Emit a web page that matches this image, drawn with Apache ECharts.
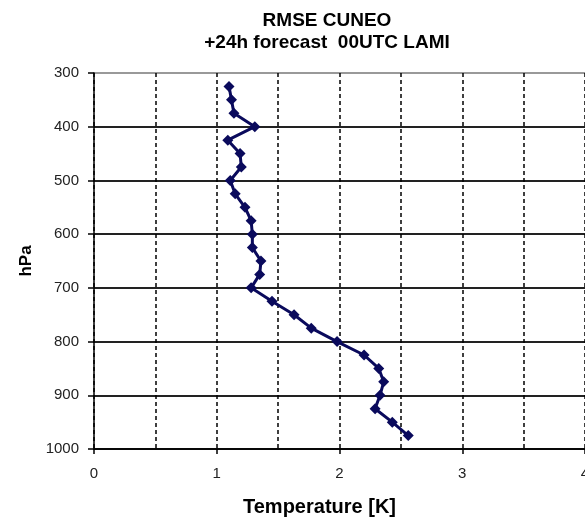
<!DOCTYPE html>
<html>
<head>
<meta charset="utf-8">
<script src="https://cdn.jsdelivr.net/npm/echarts@6/dist/echarts.min.js"></script>
<style>
html,body{margin:0;padding:0;background:#fff;overflow:hidden;}
#chart{width:585px;height:524px;}
</style>
</head>
<body>
<div id="chart"></div>
<script>
// Pressure levels (hPa)
var pressureLevels = [325,350,375,400,425,450,475,500,525,550,575,600,625,650,675,700,725,750,775,800,825,850,875,900,925,950,975];
// RMSE temperature values (K)
var rmseValues = [1.10,1.12,1.14,1.31,1.09,1.19,1.20,1.11,1.15,1.23,1.28,1.29,1.29,1.36,1.35,1.28,1.45,1.63,1.77,1.98,2.20,2.32,2.36,2.33,2.29,2.43,2.56];
var titleLines = ['RMSE CUNEO', '+24h forecast  00UTC LAMI'];
var xAxisTitle = 'Temperature [K]';
var yAxisTitle = 'hPa';

var seriesData = rmseValues.map(function(v, i){ return [v, pressureLevels[i]]; });
var FONT = 'Liberation Sans, Arial, sans-serif';

var chart = echarts.init(document.getElementById('chart'), null, {renderer:'canvas', width:585, height:524});
chart.setOption({
  backgroundColor:'#ffffff',
  animation:false,
  title:[
    {text:titleLines[0], left:322, top:6, textAlign:'center',
     textStyle:{fontFamily:FONT, fontWeight:'bold', fontSize:19, color:'#000'}},
    {text:titleLines[1], left:322, top:28, textAlign:'center',
     textStyle:{fontFamily:FONT, fontWeight:'bold', fontSize:19, color:'#000'}}
  ],
  grid:{left:94, width:491, top:73, height:376, containLabel:false, outerBoundsMode:'none'},
  xAxis:{
    type:'value', min:0, max:4, interval:1,
    name:xAxisTitle, nameLocation:'middle', nameGap:48,
    nameTextStyle:{fontFamily:FONT, fontWeight:'bold', fontSize:20, color:'#000', padding:[0,40,0,0]},
    axisLine:{show:true, onZero:false, lineStyle:{color:'#000', width:1.5}},
    axisTick:{show:true, length:5, lineStyle:{color:'#000', width:1.5}},
    axisLabel:{fontFamily:FONT, fontSize:15, color:'#222', margin:17},
    splitLine:{show:true, lineStyle:{color:'#000', width:1.5, type:[4,3]}},
    minorTick:{show:false, splitNumber:2},
    minorSplitLine:{show:true, lineStyle:{color:'#000', width:1.5, type:[4,3]}}
  },
  yAxis:{
    type:'value', min:300, max:1000, interval:100, inverse:true,
    name:yAxisTitle, nameLocation:'middle', nameGap:55, nameRotate:90,
    nameTextStyle:{fontFamily:FONT, fontWeight:'bold', fontSize:17, color:'#000'},
    axisLine:{show:true, onZero:false, lineStyle:{color:'#000', width:1.5}},
    axisTick:{show:true, length:6, lineStyle:{color:'#000', width:1.5}},
    axisLabel:{fontFamily:FONT, fontSize:15, color:'#222', margin:15,
      formatter:function(v){ return String(v); }},
    splitLine:{show:true, lineStyle:{color:['#999','#222','#222','#222','#222','#222','#222','#222'], width:2}}
  },
  series:[{
    type:'line',
    data:seriesData,
    symbol:'diamond',
    symbolSize:11,
    showSymbol:true,
    lineStyle:{color:'#0a0a5c', width:3},
    itemStyle:{color:'#0a0a5c'},
    z:5
  }]
});
</script>
</body>
</html>
